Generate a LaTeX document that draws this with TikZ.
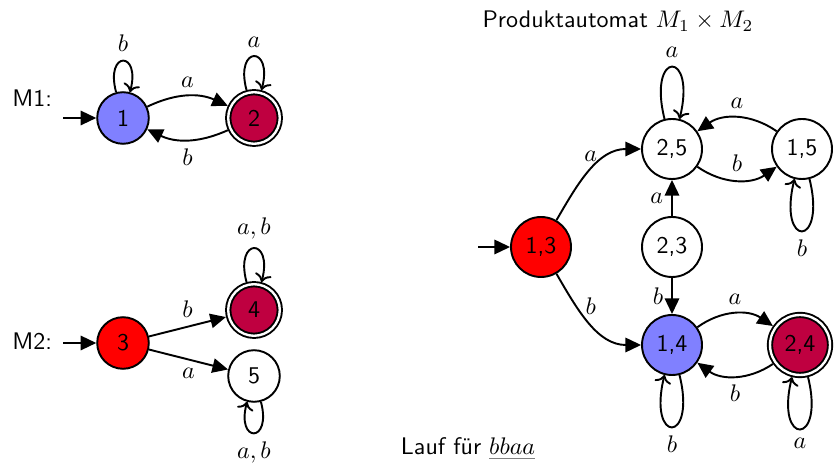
\documentclass[tikz,border=0pt]{standalone}
\usepackage{fontspec}
\usetikzlibrary{arrows.meta}

\begin{document}
\begin{tikzpicture}[x=0.4167pt,y=0.4167pt,line width=0.8pt,font=\sffamily,
		zustand/.style={draw,circle,inner sep=1pt,minimum size=21.5pt},
		pzustand/.style={draw,circle,inner sep=1pt,minimum size=25pt},
		akz/.style={double,double distance=1pt,outer sep=1.3pt},
		pfeil/.style={-{Triangle[length=6.5pt,width=6pt]}},
		pschleife/.style={->,distance=10.5mm}]
	\useasboundingbox (0,0) rectangle (834,465);
	\node[zustand,fill=blue!50] (z1) at (123,347) {1};
	\node[zustand,akz,fill=purple] (z2) at (254,347) {2};
	\node[zustand,fill=red] (z3) at (123,122) {3};
	\node[zustand,akz,fill=purple] (z4) at (254,155) {4};
	\node[zustand] (z5) at (254,89) {5};
	\node[anchor=base east] (m1) at (61,358) {M1:};
	\node[anchor=base east] (m2) at (61,115) {M2:};
	\coordinate (s1) at (63,347);
	\coordinate (s2) at (63,122);
	\draw[pfeil] (s1) -- (z1);
	\draw[pfeil] (s2) -- (z3);
	\draw[pfeil] (z1) to[bend left=25] node[above] {$a$} (z2);
	\draw[pfeil] (z2) to[bend left=25] node[below] {$b$} (z1);
	\draw[->] (z1) to[loop above] node[above] {$b$} (z1);
	\draw[->] (z2) to[loop above] node[above] {$a$} (z2);
	\draw[pfeil] (z3) -- node[above] {$b$} (z4);
	\draw[pfeil] (z3) -- node[below] {$a$} (z5);
	\draw[->] (z4) to[loop above] node[above] {$a,b$} (z4);
	\draw[->] (z5) to[loop below] node[below] {$a,b$} (z5);
	\node[anchor=base] (titel) at (618,437) {Produktautomat $M_1 \times M_2$};
	\node[pzustand,fill=red] (p13) at (541,218) {1,3};
	\node[pzustand] (p23) at (672,218) {2,3};
	\node[pzustand] (p25) at (672,316) {2,5};
	\node[pzustand] (p15) at (802,316) {1,5};
	\node[pzustand,fill=blue!50] (p14) at (672,120) {1,4};
	\node[pzustand,akz,fill=purple] (p24) at (800,120) {2,4};
	\coordinate (s3) at (478,218);
	\draw[pfeil] (s3) -- (p13);
	\draw[pfeil] (p13) to[out=60,in=180] node[above] {$a$} (p25);
	\draw[pfeil] (p13) to[out=-60,in=180] node[above] {$b$} (p14);
	\draw[pfeil] (p25) to[bend right=35] node[above] {$b$} (p15);
	\draw[pfeil] (p15) to[bend right=35] node[above] {$a$} (p25);
	\draw[pfeil] (p23) -- node[left] {$a$} (p25);
	\draw[pfeil] (p23) -- node[left] {$b$} (p14);
	\draw[pfeil] (p14) to[bend left=35] node[above] {$a$} (p24);
	\draw[pfeil] (p24) to[bend left=35] node[below] {$b$} (p14);
	\draw[pschleife] (p25) to[out=104,in=76] node[above] {$a$} (p25);
	\draw[pschleife] (p15) to[out=-76,in=-104] node[below] {$b$} (p15);
	\draw[pschleife] (p14) to[out=-76,in=-104] node[below] {$b$} (p14);
	\draw[pschleife] (p24) to[out=-76,in=-104] node[below] {$a$} (p24);
	\node[anchor=base west] (lauf) at (392,10) {Lauf für \textcolor{black!50}{\underline{\textcolor{black}{$bbaa$}}}};
\end{tikzpicture}
\end{document}
